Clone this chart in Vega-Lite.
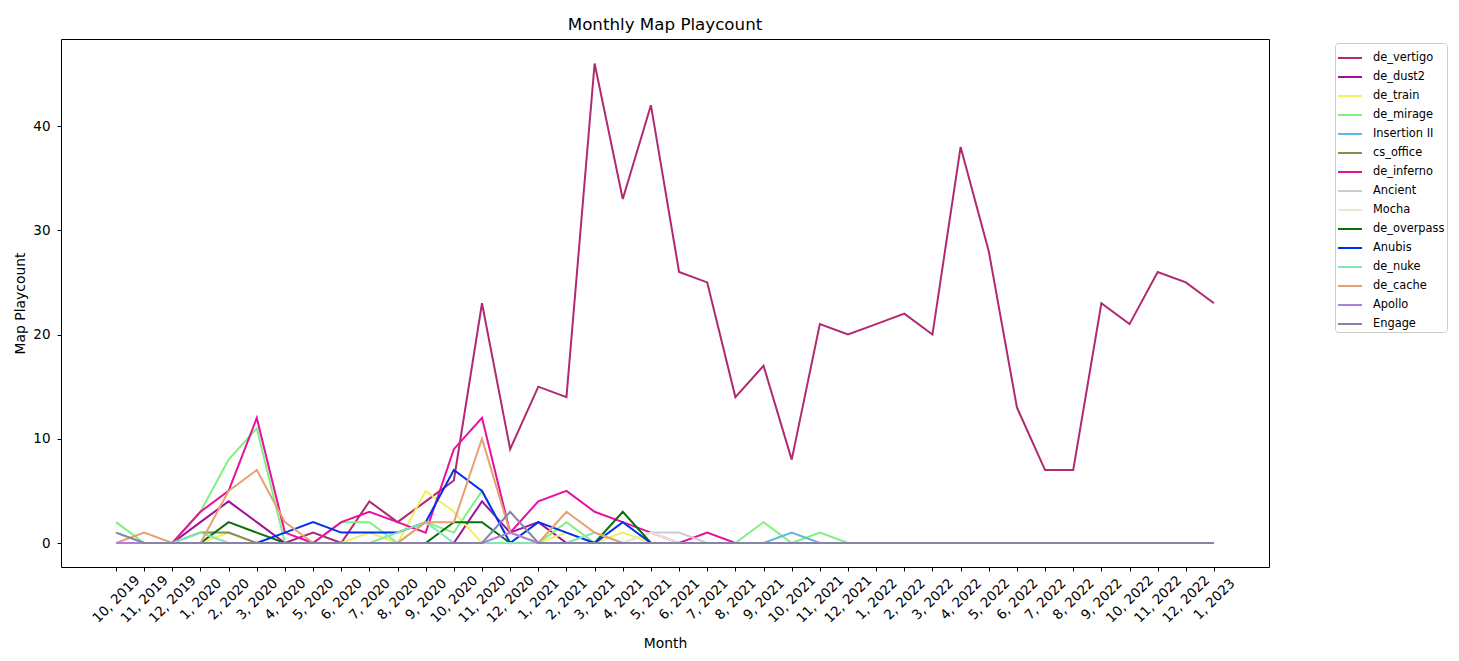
{
  "$schema": "https://vega.github.io/schema/vega-lite/v6.json",
  "autosize": {"type": "none"},
  "padding": {"left": 61, "top": 39, "right": 190, "bottom": 94},
  "width": 1208,
  "height": 528,
  "background": "white",
  "config": {
    "font": "DejaVu Sans",
    "view": {"stroke": "black", "strokeWidth": 1}
  },
  "title": {"text": "Monthly Map Playcount", "fontSize": 16.7, "fontWeight": "normal", "font": "DejaVu Sans", "color": "black", "offset": 5, "anchor": "middle"},
  "data": {"values": [
    {"month": "10, 2019", "de_vertigo": 0, "de_dust2": 0, "de_train": 0, "de_mirage": 2, "Insertion II": 0, "cs_office": 0, "de_inferno": 0, "Ancient": 0, "Mocha": 0, "de_overpass": 0, "Anubis": 0, "de_nuke": 1, "de_cache": 0, "Apollo": 0, "Engage": 1},
    {"month": "11, 2019", "de_vertigo": 0, "de_dust2": 0, "de_train": 0, "de_mirage": 0, "Insertion II": 0, "cs_office": 0, "de_inferno": 0, "Ancient": 0, "Mocha": 0, "de_overpass": 0, "Anubis": 0, "de_nuke": 0, "de_cache": 1, "Apollo": 0, "Engage": 0},
    {"month": "12, 2019", "de_vertigo": 0, "de_dust2": 0, "de_train": 0, "de_mirage": 0, "Insertion II": 0, "cs_office": 0, "de_inferno": 0, "Ancient": 0, "Mocha": 0, "de_overpass": 0, "Anubis": 0, "de_nuke": 0, "de_cache": 0, "Apollo": 0, "Engage": 0},
    {"month": "1, 2020", "de_vertigo": 0, "de_dust2": 2, "de_train": 0, "de_mirage": 3, "Insertion II": 0, "cs_office": 1, "de_inferno": 3, "Ancient": 0, "Mocha": 0, "de_overpass": 0, "Anubis": 0, "de_nuke": 1, "de_cache": 0, "Apollo": 0, "Engage": 0},
    {"month": "2, 2020", "de_vertigo": 0, "de_dust2": 4, "de_train": 1, "de_mirage": 8, "Insertion II": 0, "cs_office": 1, "de_inferno": 5, "Ancient": 0, "Mocha": 0, "de_overpass": 2, "Anubis": 0, "de_nuke": 0, "de_cache": 5, "Apollo": 0, "Engage": 0},
    {"month": "3, 2020", "de_vertigo": 0, "de_dust2": 2, "de_train": 0, "de_mirage": 11, "Insertion II": 0, "cs_office": 0, "de_inferno": 12, "Ancient": 0, "Mocha": 0, "de_overpass": 1, "Anubis": 0, "de_nuke": 0, "de_cache": 7, "Apollo": 0, "Engage": 0},
    {"month": "4, 2020", "de_vertigo": 0, "de_dust2": 0, "de_train": 0, "de_mirage": 0, "Insertion II": 0, "cs_office": 0, "de_inferno": 1, "Ancient": 0, "Mocha": 0, "de_overpass": 0, "Anubis": 1, "de_nuke": 0, "de_cache": 2, "Apollo": 0, "Engage": 0},
    {"month": "5, 2020", "de_vertigo": 1, "de_dust2": 0, "de_train": 0, "de_mirage": 0, "Insertion II": 0, "cs_office": 0, "de_inferno": 0, "Ancient": 0, "Mocha": 0, "de_overpass": 0, "Anubis": 2, "de_nuke": 0, "de_cache": 0, "Apollo": 0, "Engage": 0},
    {"month": "6, 2020", "de_vertigo": 0, "de_dust2": 0, "de_train": 0, "de_mirage": 2, "Insertion II": 0, "cs_office": 0, "de_inferno": 2, "Ancient": 0, "Mocha": 0, "de_overpass": 0, "Anubis": 1, "de_nuke": 0, "de_cache": 0, "Apollo": 0, "Engage": 0},
    {"month": "7, 2020", "de_vertigo": 4, "de_dust2": 0, "de_train": 1, "de_mirage": 2, "Insertion II": 0, "cs_office": 0, "de_inferno": 3, "Ancient": 0, "Mocha": 0, "de_overpass": 0, "Anubis": 1, "de_nuke": 0, "de_cache": 0, "Apollo": 0, "Engage": 0},
    {"month": "8, 2020", "de_vertigo": 2, "de_dust2": 0, "de_train": 0, "de_mirage": 0, "Insertion II": 0, "cs_office": 0, "de_inferno": 2, "Ancient": 0, "Mocha": 0, "de_overpass": 0, "Anubis": 1, "de_nuke": 1, "de_cache": 0, "Apollo": 0, "Engage": 0},
    {"month": "9, 2020", "de_vertigo": 4, "de_dust2": 0, "de_train": 5, "de_mirage": 2, "Insertion II": 0, "cs_office": 0, "de_inferno": 1, "Ancient": 0, "Mocha": 0, "de_overpass": 0, "Anubis": 2, "de_nuke": 2, "de_cache": 2, "Apollo": 0, "Engage": 0},
    {"month": "10, 2020", "de_vertigo": 6, "de_dust2": 0, "de_train": 3, "de_mirage": 1, "Insertion II": 0, "cs_office": 0, "de_inferno": 9, "Ancient": 0, "Mocha": 0, "de_overpass": 2, "Anubis": 7, "de_nuke": 0, "de_cache": 2, "Apollo": 0, "Engage": 0},
    {"month": "11, 2020", "de_vertigo": 23, "de_dust2": 4, "de_train": 0, "de_mirage": 5, "Insertion II": 0, "cs_office": 0, "de_inferno": 12, "Ancient": 0, "Mocha": 0, "de_overpass": 2, "Anubis": 5, "de_nuke": 0, "de_cache": 10, "Apollo": 0, "Engage": 0},
    {"month": "12, 2020", "de_vertigo": 9, "de_dust2": 1, "de_train": 0, "de_mirage": 0, "Insertion II": 0, "cs_office": 0, "de_inferno": 1, "Ancient": 0, "Mocha": 0, "de_overpass": 0, "Anubis": 0, "de_nuke": 0, "de_cache": 1, "Apollo": 1, "Engage": 3},
    {"month": "1, 2021", "de_vertigo": 15, "de_dust2": 2, "de_train": 0, "de_mirage": 0, "Insertion II": 0, "cs_office": 0, "de_inferno": 4, "Ancient": 0, "Mocha": 0, "de_overpass": 0, "Anubis": 2, "de_nuke": 0, "de_cache": 0, "Apollo": 0, "Engage": 0},
    {"month": "2, 2021", "de_vertigo": 14, "de_dust2": 0, "de_train": 1, "de_mirage": 2, "Insertion II": 0, "cs_office": 0, "de_inferno": 5, "Ancient": 0, "Mocha": 0, "de_overpass": 0, "Anubis": 1, "de_nuke": 0, "de_cache": 3, "Apollo": 0, "Engage": 0},
    {"month": "3, 2021", "de_vertigo": 46, "de_dust2": 0, "de_train": 0, "de_mirage": 0, "Insertion II": 0, "cs_office": 0, "de_inferno": 3, "Ancient": 0, "Mocha": 0, "de_overpass": 0, "Anubis": 0, "de_nuke": 1, "de_cache": 1, "Apollo": 0, "Engage": 0},
    {"month": "4, 2021", "de_vertigo": 33, "de_dust2": 0, "de_train": 1, "de_mirage": 0, "Insertion II": 0, "cs_office": 0, "de_inferno": 2, "Ancient": 0, "Mocha": 0, "de_overpass": 3, "Anubis": 2, "de_nuke": 0, "de_cache": 0, "Apollo": 0, "Engage": 0},
    {"month": "5, 2021", "de_vertigo": 42, "de_dust2": 0, "de_train": 0, "de_mirage": 0, "Insertion II": 0, "cs_office": 0, "de_inferno": 1, "Ancient": 1, "Mocha": 1, "de_overpass": 0, "Anubis": 0, "de_nuke": 0, "de_cache": 0, "Apollo": 0, "Engage": 0},
    {"month": "6, 2021", "de_vertigo": 26, "de_dust2": 0, "de_train": 0, "de_mirage": 0, "Insertion II": 0, "cs_office": 0, "de_inferno": 0, "Ancient": 1, "Mocha": 0, "de_overpass": 0, "Anubis": 0, "de_nuke": 0, "de_cache": 0, "Apollo": 0, "Engage": 0},
    {"month": "7, 2021", "de_vertigo": 25, "de_dust2": 0, "de_train": 0, "de_mirage": 0, "Insertion II": 0, "cs_office": 0, "de_inferno": 1, "Ancient": 0, "Mocha": 0, "de_overpass": 0, "Anubis": 0, "de_nuke": 0, "de_cache": 0, "Apollo": 0, "Engage": 0},
    {"month": "8, 2021", "de_vertigo": 14, "de_dust2": 0, "de_train": 0, "de_mirage": 0, "Insertion II": 0, "cs_office": 0, "de_inferno": 0, "Ancient": 0, "Mocha": 0, "de_overpass": 0, "Anubis": 0, "de_nuke": 0, "de_cache": 0, "Apollo": 0, "Engage": 0},
    {"month": "9, 2021", "de_vertigo": 17, "de_dust2": 0, "de_train": 0, "de_mirage": 2, "Insertion II": 0, "cs_office": 0, "de_inferno": 0, "Ancient": 0, "Mocha": 0, "de_overpass": 0, "Anubis": 0, "de_nuke": 0, "de_cache": 0, "Apollo": 0, "Engage": 0},
    {"month": "10, 2021", "de_vertigo": 8, "de_dust2": 0, "de_train": 0, "de_mirage": 0, "Insertion II": 1, "cs_office": 0, "de_inferno": 0, "Ancient": 0, "Mocha": 0, "de_overpass": 0, "Anubis": 0, "de_nuke": 0, "de_cache": 0, "Apollo": 0, "Engage": 0},
    {"month": "11, 2021", "de_vertigo": 21, "de_dust2": 0, "de_train": 0, "de_mirage": 1, "Insertion II": 0, "cs_office": 0, "de_inferno": 0, "Ancient": 0, "Mocha": 0, "de_overpass": 0, "Anubis": 0, "de_nuke": 0, "de_cache": 0, "Apollo": 0, "Engage": 0},
    {"month": "12, 2021", "de_vertigo": 20, "de_dust2": 0, "de_train": 0, "de_mirage": 0, "Insertion II": 0, "cs_office": 0, "de_inferno": 0, "Ancient": 0, "Mocha": 0, "de_overpass": 0, "Anubis": 0, "de_nuke": 0, "de_cache": 0, "Apollo": 0, "Engage": 0},
    {"month": "1, 2022", "de_vertigo": 21, "de_dust2": 0, "de_train": 0, "de_mirage": 0, "Insertion II": 0, "cs_office": 0, "de_inferno": 0, "Ancient": 0, "Mocha": 0, "de_overpass": 0, "Anubis": 0, "de_nuke": 0, "de_cache": 0, "Apollo": 0, "Engage": 0},
    {"month": "2, 2022", "de_vertigo": 22, "de_dust2": 0, "de_train": 0, "de_mirage": 0, "Insertion II": 0, "cs_office": 0, "de_inferno": 0, "Ancient": 0, "Mocha": 0, "de_overpass": 0, "Anubis": 0, "de_nuke": 0, "de_cache": 0, "Apollo": 0, "Engage": 0},
    {"month": "3, 2022", "de_vertigo": 20, "de_dust2": 0, "de_train": 0, "de_mirage": 0, "Insertion II": 0, "cs_office": 0, "de_inferno": 0, "Ancient": 0, "Mocha": 0, "de_overpass": 0, "Anubis": 0, "de_nuke": 0, "de_cache": 0, "Apollo": 0, "Engage": 0},
    {"month": "4, 2022", "de_vertigo": 38, "de_dust2": 0, "de_train": 0, "de_mirage": 0, "Insertion II": 0, "cs_office": 0, "de_inferno": 0, "Ancient": 0, "Mocha": 0, "de_overpass": 0, "Anubis": 0, "de_nuke": 0, "de_cache": 0, "Apollo": 0, "Engage": 0},
    {"month": "5, 2022", "de_vertigo": 28, "de_dust2": 0, "de_train": 0, "de_mirage": 0, "Insertion II": 0, "cs_office": 0, "de_inferno": 0, "Ancient": 0, "Mocha": 0, "de_overpass": 0, "Anubis": 0, "de_nuke": 0, "de_cache": 0, "Apollo": 0, "Engage": 0},
    {"month": "6, 2022", "de_vertigo": 13, "de_dust2": 0, "de_train": 0, "de_mirage": 0, "Insertion II": 0, "cs_office": 0, "de_inferno": 0, "Ancient": 0, "Mocha": 0, "de_overpass": 0, "Anubis": 0, "de_nuke": 0, "de_cache": 0, "Apollo": 0, "Engage": 0},
    {"month": "7, 2022", "de_vertigo": 7, "de_dust2": 0, "de_train": 0, "de_mirage": 0, "Insertion II": 0, "cs_office": 0, "de_inferno": 0, "Ancient": 0, "Mocha": 0, "de_overpass": 0, "Anubis": 0, "de_nuke": 0, "de_cache": 0, "Apollo": 0, "Engage": 0},
    {"month": "8, 2022", "de_vertigo": 7, "de_dust2": 0, "de_train": 0, "de_mirage": 0, "Insertion II": 0, "cs_office": 0, "de_inferno": 0, "Ancient": 0, "Mocha": 0, "de_overpass": 0, "Anubis": 0, "de_nuke": 0, "de_cache": 0, "Apollo": 0, "Engage": 0},
    {"month": "9, 2022", "de_vertigo": 23, "de_dust2": 0, "de_train": 0, "de_mirage": 0, "Insertion II": 0, "cs_office": 0, "de_inferno": 0, "Ancient": 0, "Mocha": 0, "de_overpass": 0, "Anubis": 0, "de_nuke": 0, "de_cache": 0, "Apollo": 0, "Engage": 0},
    {"month": "10, 2022", "de_vertigo": 21, "de_dust2": 0, "de_train": 0, "de_mirage": 0, "Insertion II": 0, "cs_office": 0, "de_inferno": 0, "Ancient": 0, "Mocha": 0, "de_overpass": 0, "Anubis": 0, "de_nuke": 0, "de_cache": 0, "Apollo": 0, "Engage": 0},
    {"month": "11, 2022", "de_vertigo": 26, "de_dust2": 0, "de_train": 0, "de_mirage": 0, "Insertion II": 0, "cs_office": 0, "de_inferno": 0, "Ancient": 0, "Mocha": 0, "de_overpass": 0, "Anubis": 0, "de_nuke": 0, "de_cache": 0, "Apollo": 0, "Engage": 0},
    {"month": "12, 2022", "de_vertigo": 25, "de_dust2": 0, "de_train": 0, "de_mirage": 0, "Insertion II": 0, "cs_office": 0, "de_inferno": 0, "Ancient": 0, "Mocha": 0, "de_overpass": 0, "Anubis": 0, "de_nuke": 0, "de_cache": 0, "Apollo": 0, "Engage": 0},
    {"month": "1, 2023", "de_vertigo": 23, "de_dust2": 0, "de_train": 0, "de_mirage": 0, "Insertion II": 0, "cs_office": 0, "de_inferno": 0, "Ancient": 0, "Mocha": 0, "de_overpass": 0, "Anubis": 0, "de_nuke": 0, "de_cache": 0, "Apollo": 0, "Engage": 0}
  ]},
  "transform": [
    {"fold": ["de_vertigo", "de_dust2", "de_train", "de_mirage", "Insertion II", "cs_office", "de_inferno", "Ancient", "Mocha", "de_overpass", "Anubis", "de_nuke", "de_cache", "Apollo", "Engage"], "as": ["map", "count"]}
  ],
  "mark": {"type": "line", "strokeWidth": 2, "interpolate": "linear"},
  "encoding": {
    "x": {
      "field": "month", "type": "ordinal", "sort": null,
      "scale": {"type": "point", "padding": 0, "range": [55, 1153]},
      "axis": {"title": "Month", "titleFontSize": 13.9, "titleFontWeight": "normal", "titleColor": "black", "titleY": 76, "titleBaseline": "middle",
               "labelAngle": -45, "labelAlign": "center", "labelBaseline": "middle", "labelPadding": 28, "labelFontSize": 13.5, "labelColor": "black",
               "tickSize": 4, "tickColor": "black", "domain": false, "grid": false, "labelOverlap": false}
    },
    "y": {
      "field": "count", "type": "quantitative",
      "scale": {"domain": [-2.3, 48.35], "nice": false, "zero": false},
      "axis": {"title": "Map Playcount", "titleFontSize": 13.9, "titleFontWeight": "normal", "titleColor": "black", "titleX": -41, "titleY": 264, "titleBaseline": "middle",
               "values": [0, 10, 20, 30, 40], "labelFontSize": 13.5, "labelColor": "black", "labelPadding": 7,
               "tickSize": 4, "tickColor": "black", "domain": false, "grid": false}
    },
    "color": {
      "field": "map", "type": "nominal",
      "scale": {
        "domain": ["de_vertigo", "de_dust2", "de_train", "de_mirage", "Insertion II", "cs_office", "de_inferno", "Ancient", "Mocha", "de_overpass", "Anubis", "de_nuke", "de_cache", "Apollo", "Engage"],
        "range": ["#b02a72", "#a0109f", "#eef060", "#80f080", "#60b8e0", "#809050", "#e8109f", "#cccccc", "#efe4d4", "#0a700a", "#0030f0", "#80e8b0", "#e8a070", "#b080e0", "#8884a8"]
      },
      "legend": {"title": null, "orient": "none", "legendX": 1274, "legendY": 4, "symbolType": "stroke", "symbolSize": 576, "symbolStrokeWidth": 2,
                 "labelFontSize": 11.4, "labelColor": "black", "rowPadding": -5.1, "labelOffset": 10, "padding": 2,
                 "strokeColor": "#cccccc", "fillColor": "white", "cornerRadius": 3}
    }
  }
}
